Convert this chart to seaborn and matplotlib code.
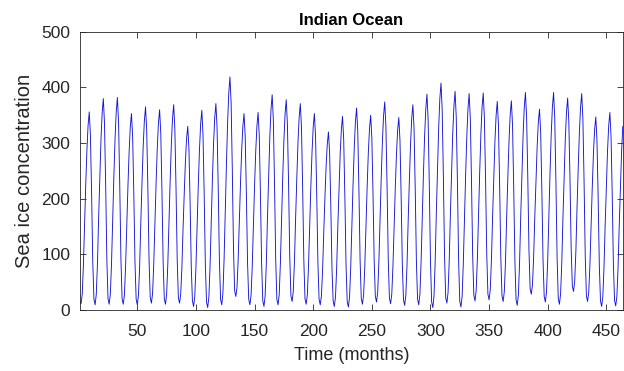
import numpy as np
import pandas as pd
import matplotlib
matplotlib.use("Agg")
import matplotlib.pyplot as plt
import seaborn as sns

# Monthly values (Jan..Dec), one list per year
y1979 = [16, 11, 28, 80, 156, 225, 287, 332, 356, 314, 210, 85]
y1980 = [19, 9, 28, 83, 165, 239, 306, 354, 380, 336, 225, 91]
y1981 = [20, 10, 29, 84, 166, 241, 308, 356, 382, 337, 226, 92]
y1982 = [20, 10, 27, 79, 154, 223, 284, 329, 353, 312, 209, 85]
y1983 = [19, 9, 27, 80, 159, 230, 294, 340, 365, 323, 217, 90]
y1984 = [22, 12, 29, 82, 158, 228, 290, 336, 360, 318, 213, 87]
y1985 = [20, 10, 28, 82, 161, 233, 297, 344, 369, 326, 219, 91]
y1986 = [22, 12, 28, 76, 146, 209, 266, 308, 330, 291, 194, 77]
y1987 = [16, 6, 24, 77, 154, 225, 288, 334, 359, 316, 210, 82]
y1988 = [14, 4, 22, 77, 158, 232, 298, 345, 371, 328, 219, 89]
y1989 = [19, 9, 30, 91, 181, 263, 337, 390, 419, 372, 253, 111]
y1990 = [34, 24, 40, 90, 162, 228, 287, 330, 353, 312, 209, 85]
y1991 = [19, 9, 26, 78, 154, 224, 286, 331, 355, 313, 208, 83]
y1992 = [16, 6, 25, 82, 166, 242, 311, 360, 387, 342, 228, 92]
y1993 = [19, 9, 27, 83, 164, 238, 304, 352, 378, 334, 226, 95]
y1994 = [25, 15, 33, 86, 165, 236, 300, 346, 371, 328, 219, 89]
y1995 = [20, 10, 27, 79, 154, 223, 284, 329, 353, 312, 209, 85]
y1996 = [19, 9, 25, 71, 140, 202, 258, 298, 320, 282, 188, 75]
y1997 = [16, 6, 23, 74, 150, 218, 280, 324, 348, 307, 204, 80]
y1998 = [15, 5, 23, 77, 155, 227, 291, 338, 363, 321, 215, 88]
y1999 = [20, 10, 27, 78, 153, 221, 282, 326, 350, 310, 209, 88]
y2000 = [24, 14, 32, 86, 165, 237, 302, 349, 374, 330, 222, 91]
y2001 = [21, 11, 28, 78, 152, 219, 279, 323, 346, 305, 204, 82]
y2002 = [18, 8, 26, 80, 160, 232, 297, 344, 369, 326, 218, 88]
y2003 = [19, 9, 28, 85, 168, 244, 312, 361, 388, 342, 227, 88]
y2004 = [14, 4, 24, 85, 174, 254, 327, 380, 408, 360, 242, 99]
y2005 = [22, 12, 31, 88, 172, 248, 317, 366, 393, 346, 230, 90]
y2006 = [15, 5, 24, 82, 166, 243, 312, 362, 389, 344, 232, 98]
y2007 = [26, 16, 35, 91, 173, 248, 315, 364, 390, 345, 234, 100]
y2008 = [28, 18, 36, 89, 168, 239, 304, 350, 375, 332, 224, 94]
y2009 = [25, 15, 33, 87, 167, 239, 304, 351, 376, 332, 221, 89]
y2010 = [18, 8, 27, 85, 169, 245, 314, 364, 391, 347, 239, 108]
y2011 = [38, 28, 45, 95, 168, 234, 294, 338, 361, 319, 215, 90]
y2012 = [24, 14, 33, 89, 172, 248, 316, 365, 391, 345, 231, 94]
y2013 = [20, 10, 29, 84, 166, 240, 307, 355, 381, 339, 235, 110]
y2014 = [43, 33, 51, 104, 183, 254, 318, 364, 389, 344, 232, 97]
y2015 = [25, 15, 32, 81, 154, 221, 281, 324, 347, 306, 204, 81]
y2016 = [16, 6, 23, 76, 153, 222, 285, 331, 355, 313, 209, 84]
y2017 = [17, 7, 24, 76, 152, 220, 284, 330]

years = [y1979, y1980, y1981, y1982, y1983, y1984, y1985, y1986, y1987,
         y1988, y1989, y1990, y1991, y1992, y1993, y1994, y1995, y1996,
         y1997, y1998, y1999, y2000, y2001, y2002, y2003, y2004, y2005,
         y2006, y2007, y2008, y2009, y2010, y2011, y2012, y2013, y2014,
         y2015, y2016, y2017]
values = [v for yr in years for v in yr]
months = np.arange(1, len(values) + 1)

x_ticks = [50, 100, 150, 200, 250, 300, 350, 400, 450]
y_ticks = [0, 100, 200, 300, 400, 500]

df = pd.DataFrame({"month": months, "ice": values})

sns.set_theme(style="white")
plt.rcParams["font.family"] = ["Liberation Sans", "DejaVu Sans"]

fig = plt.figure(figsize=(6.24, 3.71), dpi=100)
ax = fig.add_axes([0.128, 0.165, 0.870, 0.749])

sns.lineplot(data=df, x="month", y="ice", color="#1414d8", linewidth=0.65, ax=ax)

ax.set_xlim(1, len(values))
ax.set_ylim(0, 500)
ax.set_xticks(x_ticks)
ax.set_yticks(y_ticks)

edge = "#262626"
for s in ax.spines.values():
    s.set_color(edge)
    s.set_linewidth(0.6)
    s.set_visible(True)
ax.tick_params(axis="both", which="both", direction="in", length=4, width=0.6,
               colors=edge, labelcolor="#262626", labelsize=12.5,
               top=True, right=True, bottom=True, left=True,
               labeltop=False, labelright=False)
ax.tick_params(axis="x", pad=10)
ax.tick_params(axis="y", pad=7)

ax.set_xlabel("Time (months)", fontsize=13, color="#262626", labelpad=6)
ax.set_ylabel("Sea ice concentration", fontsize=14.5, color="#262626", labelpad=5)
ax.set_title("Indian Ocean", fontsize=12, fontweight="bold", color="black", pad=5)

fig.savefig("out.png", dpi=100, facecolor="white")
